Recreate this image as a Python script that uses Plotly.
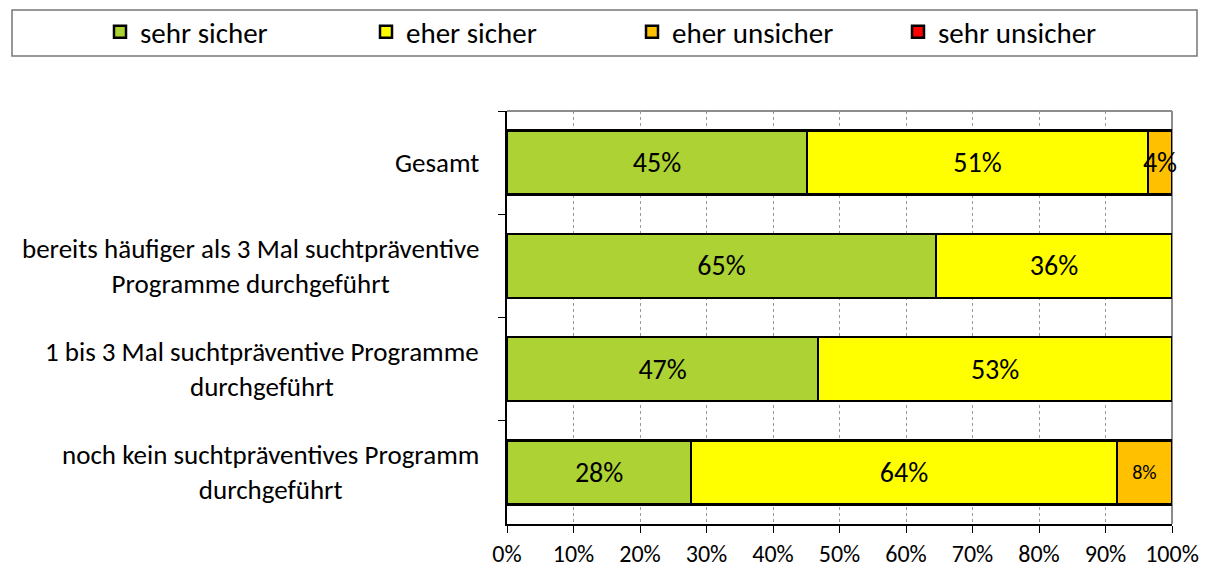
import plotly.graph_objects as go

categories = [
    "Gesamt",
    "bereits häufiger als 3 Mal suchtpräventive<br>Programme durchgeführt",
    "1 bis 3 Mal suchtpräventive Programme<br>durchgeführt",
    "noch kein suchtpräventives Programm<br>durchgeführt",
]
series_names = ["sehr sicher", "eher sicher", "eher unsicher", "sehr unsicher"]
sehr_sicher = [45.1, 64.5, 46.8, 27.7]
eher_sicher = [51.3, 35.5, 53.2, 64.0]
eher_unsicher = [3.6, 0, 0, 8.3]
sehr_unsicher = [0, 0, 0, 0]
x_ticks = [0, 10, 20, 30, 40, 50, 60, 70, 80, 90, 100]
x_tick_labels = [f"{t}%" for t in x_ticks]

colors = ["#ACD234", "#FFFF00", "#FFC000", "#FF0000"]
FONT = "Carlito, Calibri, Lato, sans-serif"

fig = go.Figure()
for name, vals, col in zip(series_names, [sehr_sicher, eher_sicher, eher_unsicher, sehr_unsicher], colors):
    texts = [f"{int(v + 0.5)}%" if v > 0 else "" for v in vals]
    sizes = [28] * len(vals)
    if name == "eher unsicher":
        sizes = [28, 28, 28, 20]
    fig.add_trace(go.Bar(
        y=categories, x=vals, name=name, orientation="h",
        marker=dict(color=col, line=dict(color="black", width=2.5)),
        text=texts, textposition="inside", insidetextanchor="middle",
        constraintext="none", textangle=0, cliponaxis=False,
        textfont=dict(color="black", size=sizes, family=FONT),
        hoverinfo="skip",
    ))

fig.update_layout(
    barmode="stack",
    bargap=0.38,
    width=1210, height=572,
    margin=dict(l=507, r=38, t=111, b=48, autoexpand=False),
    plot_bgcolor="white", paper_bgcolor="white",
    font=dict(family=FONT, color="black"),
    showlegend=True,
    legend=dict(
        orientation="h", x=(100 - 507) / 665, y=(524 - 32) / 413,
        xanchor="left", yanchor="middle",
        font=dict(size=29, family=FONT, color="black"),
        entrywidth=221, entrywidthmode="pixels",
        traceorder="normal", bgcolor="rgba(0,0,0,0)",
        itemclick=False, itemdoubleclick=False,
    ),
    xaxis=dict(
        range=[0, 100], tickvals=x_ticks, ticktext=x_tick_labels,
        showgrid=True, gridcolor="#9a9a9a", griddash="dot", gridwidth=1,
        showline=True, linecolor="black", linewidth=1.5,
        ticks="outside", ticklen=7, tickcolor="black", tickwidth=1,
        ticklabelstandoff=0, automargin=False,
        tickfont=dict(size=24, family=FONT, color="black"),
        zeroline=False, fixedrange=True,
    ),
    yaxis=dict(
        categoryorder="array", categoryarray=categories, autorange="reversed",
        showticklabels=False, showgrid=False, automargin=False,
        showline=True, linecolor="black", linewidth=1.5,
        ticks="outside", ticklen=7, tickcolor="black", tickson="boundaries",
        zeroline=False, fixedrange=True,
    ),
)

# plot area border (top and right are gray)
fig.add_shape(type="line", xref="paper", yref="paper", x0=0, x1=1, y0=1, y1=1,
              line=dict(color="#8c8c8c", width=2), layer="below")
fig.add_shape(type="line", xref="paper", yref="paper", x0=1, x1=1, y0=0, y1=1,
              line=dict(color="#8c8c8c", width=2), layer="below")

# legend frame
fig.add_shape(type="rect", xref="paper", yref="paper",
              x0=(12 - 507) / 665, x1=(1197 - 507) / 665,
              y0=(524 - 56) / 413, y1=(524 - 10) / 413,
              line=dict(color="#777777", width=1.5), fillcolor="rgba(0,0,0,0)")

# category labels (centered multi-line, right-aligned block)
for c in categories:
    fig.add_annotation(x=0, y=c, xref="paper", yref="y", text=c, showarrow=False,
                       xanchor="right", xshift=-26, align="center",
                       font=dict(size=27, family=FONT, color="black"))

fig.write_html("out.html", config={"displayModeBar": False},
               post_script="document.body.style.margin='0';")
